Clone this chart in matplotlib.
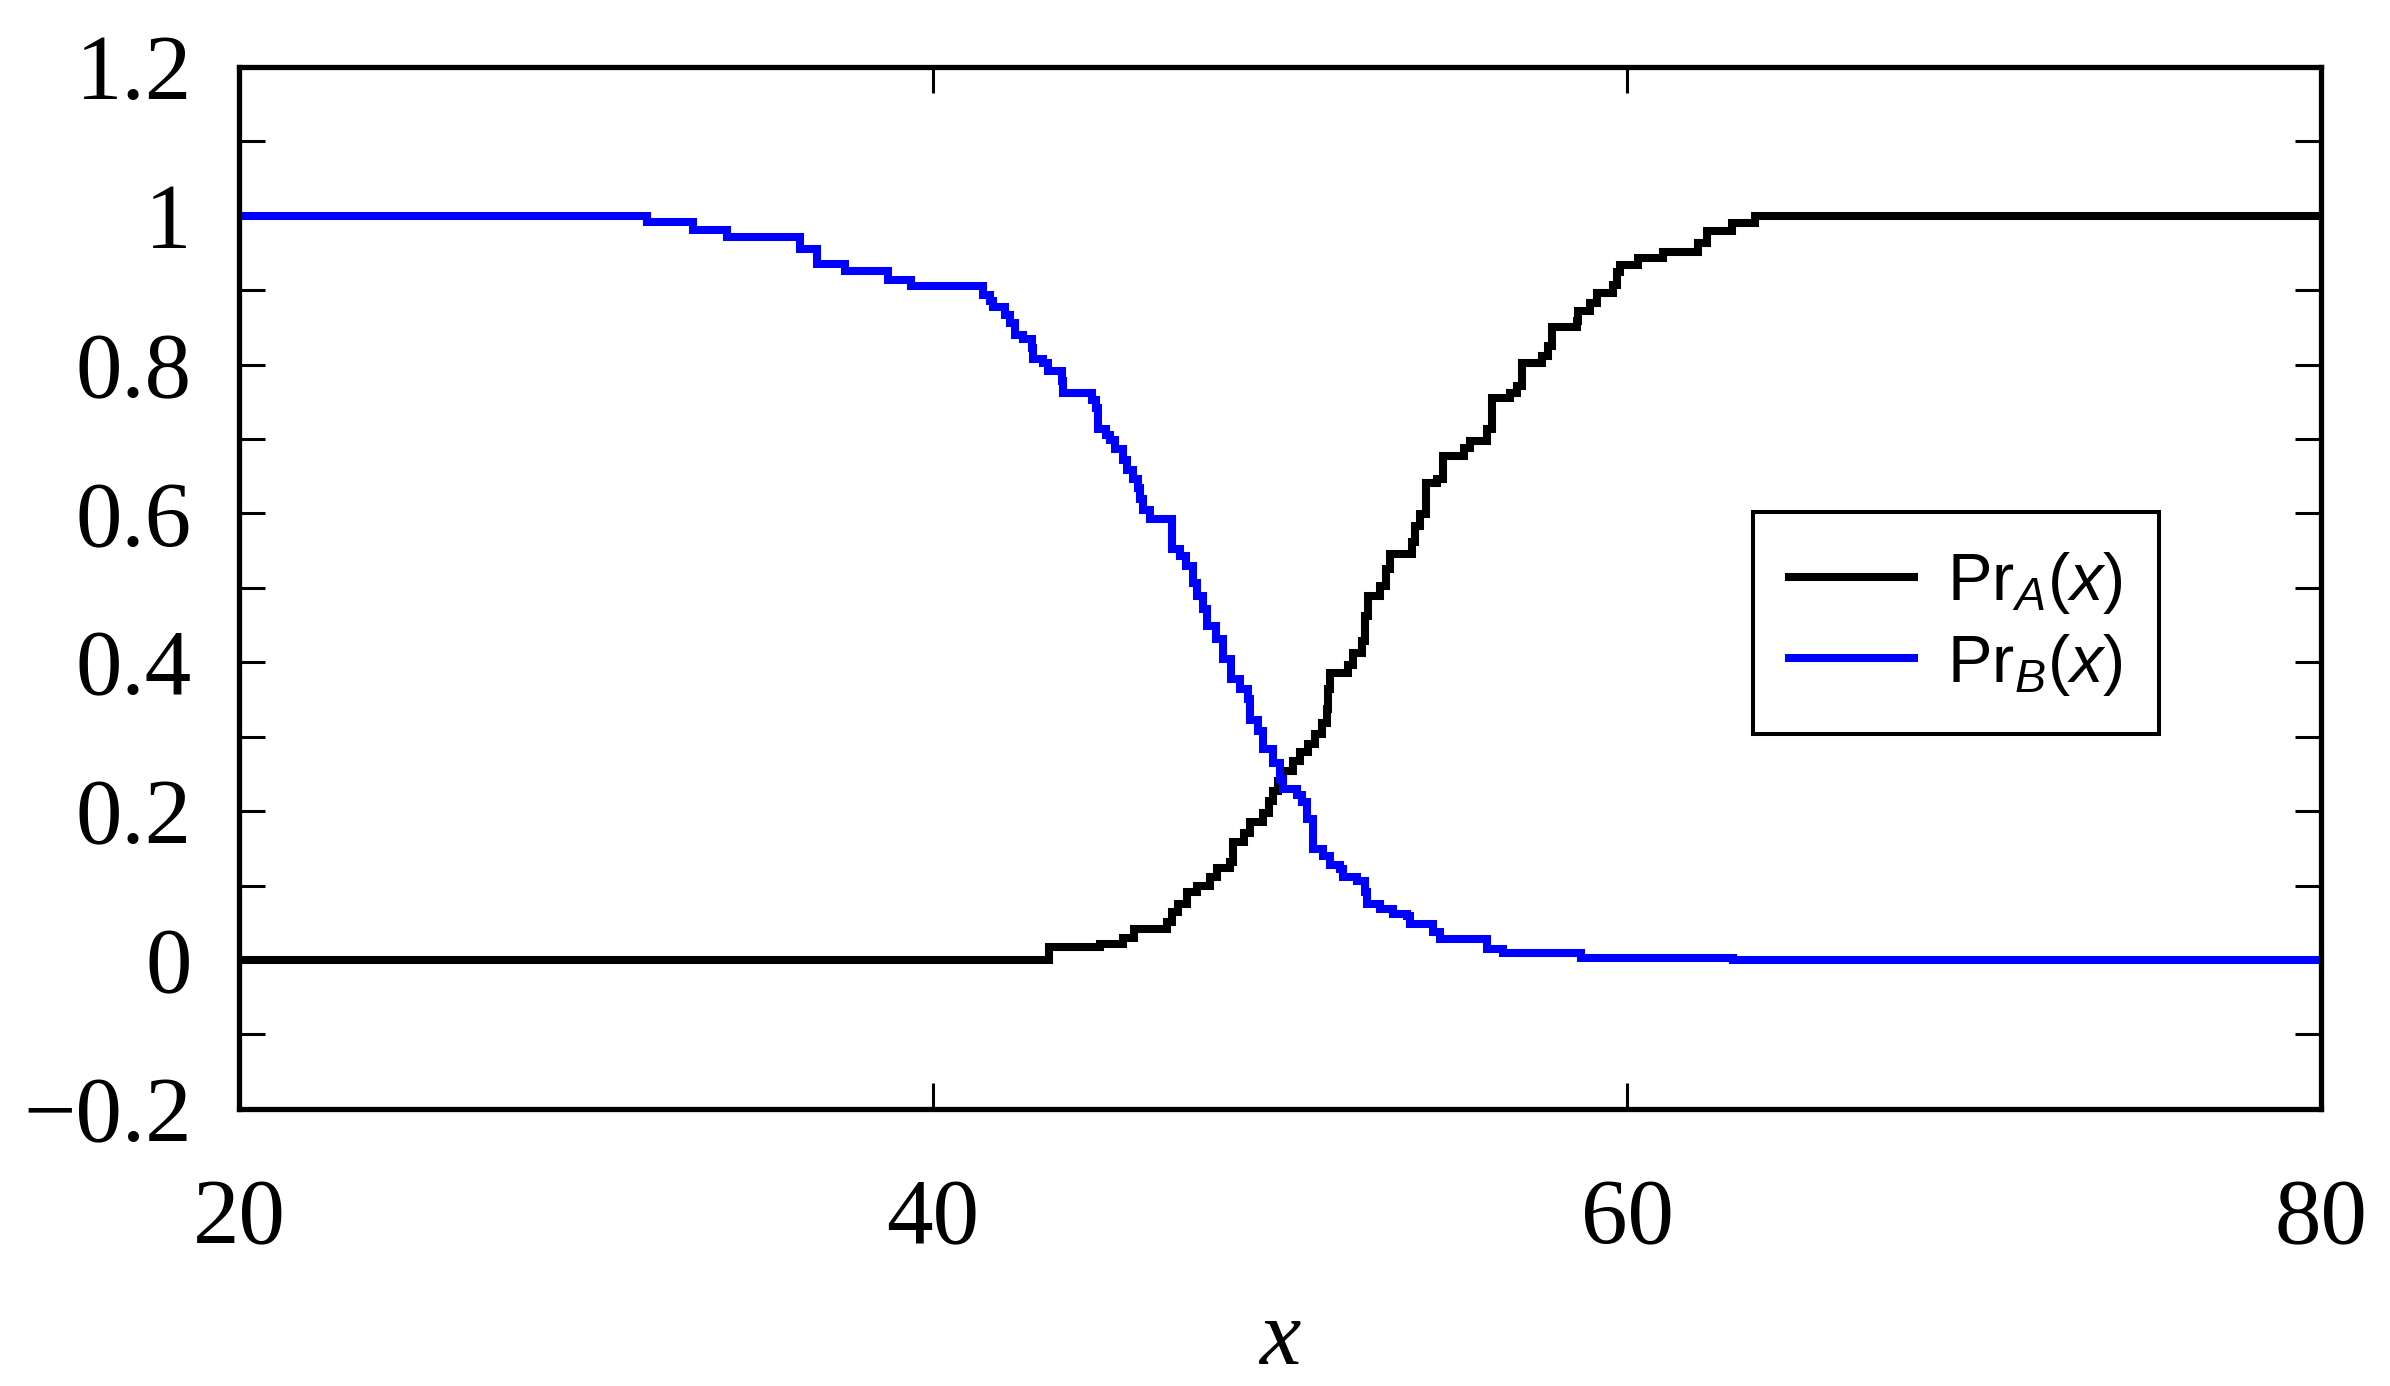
import matplotlib
matplotlib.use("Agg")
import matplotlib.pyplot as plt
from matplotlib.ticker import FixedLocator, FixedFormatter

# ---- data (step functions, value holds from x_i to x_{i+1}) ----
xA = [20.0, 43.33, 44.81, 45.49, 45.78, 46.74, 46.88, 47.07, 47.31, 47.60, 47.98,
      48.18, 48.56, 48.66, 48.95, 49.14, 49.52, 49.67, 49.81, 49.95, 50.10, 50.38,
      50.58, 50.82, 51.01, 51.20, 51.35, 51.39, 51.44, 51.97, 52.11, 52.35, 52.45,
      52.54, 52.88, 53.07, 53.17, 53.80, 53.89, 54.04, 54.21, 54.52, 54.69, 55.29,
      55.48, 55.96, 56.10, 56.63, 56.82, 56.97, 57.54, 57.73, 57.83, 58.55, 58.60,
      58.93, 59.13, 59.61, 59.70, 59.80, 60.33, 61.05, 62.06, 62.30, 63.02, 63.69, 80.0]
yA = [0.000, 0.017, 0.021, 0.030, 0.042, 0.051, 0.064, 0.075, 0.091, 0.100, 0.111,
      0.124, 0.131, 0.158, 0.171, 0.185, 0.198, 0.214, 0.227, 0.241, 0.254, 0.268,
      0.279, 0.290, 0.303, 0.319, 0.337, 0.364, 0.386, 0.397, 0.413, 0.429, 0.462,
      0.489, 0.502, 0.525, 0.545, 0.561, 0.583, 0.599, 0.641, 0.646, 0.677, 0.688,
      0.697, 0.713, 0.755, 0.762, 0.771, 0.802, 0.811, 0.825, 0.851, 0.858, 0.872,
      0.883, 0.896, 0.907, 0.925, 0.934, 0.943, 0.952, 0.963, 0.979, 0.990, 1.000, 1.000]

xB = [20.0, 31.75, 33.09, 34.05, 36.17, 36.65, 37.46, 38.71, 39.38, 41.45, 41.64,
      41.74, 42.07, 42.22, 42.36, 42.60, 42.84, 42.89, 43.18, 43.32, 43.71, 43.76,
      44.57, 44.71, 44.76, 45.00, 45.10, 45.24, 45.48, 45.58, 45.77, 45.91, 45.96,
      46.06, 46.25, 46.90, 47.11, 47.30, 47.50, 47.60, 47.79, 47.89, 48.17, 48.35,
      48.58, 48.85, 49.09, 49.14, 49.38, 49.52, 49.81, 50.00, 50.10, 50.48, 50.63,
      50.78, 50.96, 51.25, 51.44, 51.73, 51.82, 52.21, 52.45, 52.50, 52.88, 53.27,
      53.65, 53.75, 54.42, 54.61, 55.96, 56.44, 58.69, 63.06, 80.0]
yB = [1.000, 0.992, 0.981, 0.971, 0.956, 0.935, 0.926, 0.914, 0.905, 0.894, 0.886,
      0.877, 0.867, 0.856, 0.840, 0.834, 0.822, 0.807, 0.802, 0.791, 0.778, 0.762,
      0.753, 0.742, 0.713, 0.706, 0.699, 0.686, 0.672, 0.659, 0.646, 0.634, 0.619,
      0.605, 0.593, 0.552, 0.543, 0.529, 0.507, 0.489, 0.471, 0.449, 0.431, 0.404,
      0.377, 0.364, 0.350, 0.323, 0.308, 0.283, 0.265, 0.243, 0.230, 0.221, 0.212,
      0.189, 0.149, 0.140, 0.127, 0.122, 0.111, 0.106, 0.091, 0.075, 0.068, 0.062,
      0.059, 0.048, 0.037, 0.028, 0.015, 0.010, 0.003, 0.000, 0.000]

labels = [r'$\mathrm{Pr}_{A}\mathrm{(}x\mathrm{)}$', r'$\mathrm{Pr}_{B}\mathrm{(}x\mathrm{)}$']
xticks = [20, 40, 60, 80]
xticklabels = ['20', '40', '60', '80']
yticks = [-0.2, 0.0, 0.2, 0.4, 0.6, 0.8, 1.0, 1.2]
yticklabels = ['\u22120.2', '0', '0.2', '0.4', '0.6', '0.8', '1', '1.2']
yminor = [-0.1, 0.1, 0.3, 0.5, 0.7, 0.9, 1.1]

# ---- style ----
plt.rcParams['mathtext.fontset'] = 'custom'
plt.rcParams['mathtext.rm'] = 'Liberation Sans'
plt.rcParams['mathtext.it'] = 'Liberation Sans:italic'

fig = plt.figure(figsize=(23.9, 13.86), dpi=100)
ax = fig.add_axes([0.1, 0.2, 0.8711, 0.7517])

ax.step(xA, yA, where='post', color='black', lw=5.8, label=labels[0],
        solid_joinstyle='miter')
ax.step(xB, yB, where='post', color='#0000ff', lw=5.8, label=labels[1],
        solid_joinstyle='miter')

ax.set_xlim(20, 80)
ax.set_ylim(-0.2, 1.2)

ax.xaxis.set_major_locator(FixedLocator(xticks))
ax.xaxis.set_major_formatter(FixedFormatter(xticklabels))
ax.yaxis.set_major_locator(FixedLocator(yticks))
ax.yaxis.set_major_formatter(FixedFormatter(yticklabels))
ax.yaxis.set_minor_locator(FixedLocator(yminor))

for s in ax.spines.values():
    s.set_linewidth(3.8)

ax.tick_params(axis='both', which='both', direction='in', length=19, width=2.2,
               top=True, right=True)
ax.tick_params(axis='x', which='major', pad=50)
ax.tick_params(axis='y', which='major', pad=34)
for lab in ax.get_xticklabels() + ax.get_yticklabels():
    lab.set_fontfamily('Liberation Serif')
    lab.set_fontsize(67)

ax.set_xlabel('x', fontfamily='Liberation Serif', fontstyle='italic', fontsize=67, labelpad=26)

leg = ax.legend(loc='upper left', bbox_to_anchor=(0.727, 0.573), borderaxespad=0,
                fontsize=48, handlelength=1.87, handletextpad=0.5, labelspacing=0.2,
                borderpad=0.55, fancybox=False, framealpha=1, edgecolor='black')
leg.get_frame().set_linewidth(2.9)

fig.savefig('out.png', dpi=100, facecolor='white')
